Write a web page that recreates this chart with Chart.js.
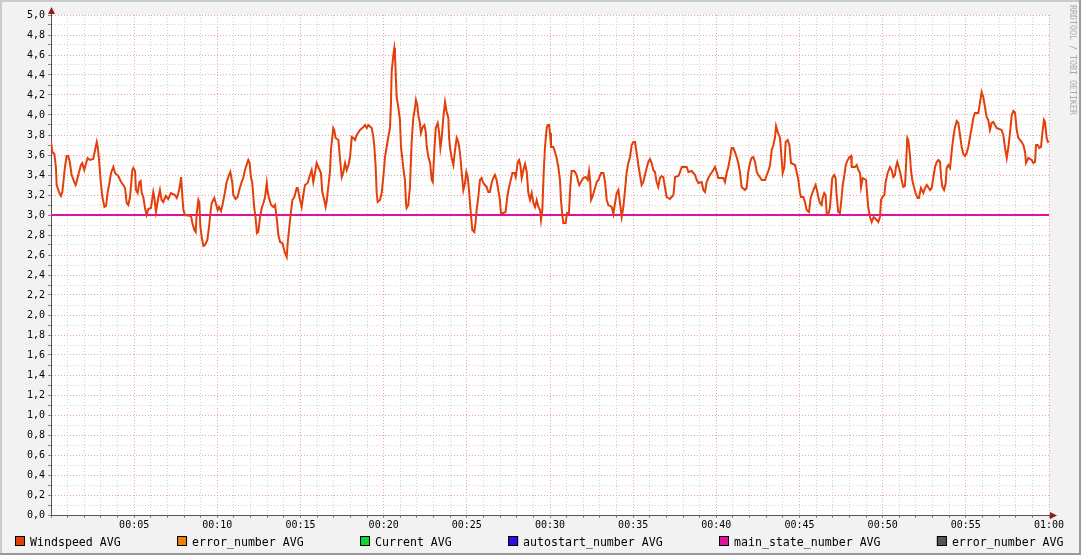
<!DOCTYPE html>
<html>
<head>
<meta charset="utf-8">
<script src="https://cdn.jsdelivr.net/npm/chart.js@4/dist/chart.umd.min.js"></script>
<style>
  html, body { margin: 0; padding: 0; background: #f2f2f2; }
  #wrap { width: 1081px; height: 555px; }
</style>
</head>
<body>
<div id="wrap"><canvas id="myChartLine" width="1081" height="555"></canvas></div>
<script>
// minutes after 00:00
const minutes = [
  0.00, 0.08, 0.20, 0.30, 0.34, 0.48, 0.60, 0.68, 0.74, 0.84, 0.94, 1.04, 1.14, 1.24, 1.40, 1.48, 1.54, 1.64, 1.80, 1.88,
  2.00, 2.08, 2.20, 2.34, 2.54, 2.65, 2.75, 2.81, 2.90, 2.99, 3.09, 3.21, 3.31, 3.41, 3.51, 3.61, 3.75, 3.85, 4.05, 4.21,
  4.35, 4.45, 4.55, 4.65, 4.75, 4.89, 4.95, 5.05, 5.11, 5.21, 5.31, 5.39, 5.45, 5.55, 5.65, 5.75, 5.85, 6.01, 6.15, 6.21,
  6.31, 6.45, 6.55, 6.65, 6.75, 6.90, 7.05, 7.21, 7.45, 7.56, 7.66, 7.76, 7.82, 7.90, 7.96, 8.06, 8.42, 8.50, 8.62, 8.70,
  8.76, 8.86, 8.92, 8.98, 9.06, 9.16, 9.26, 9.40, 9.50, 9.56, 9.66, 9.82, 9.90, 10.02, 10.10, 10.22, 10.32, 10.46, 10.56, 10.70,
  10.78, 10.90, 10.96, 11.10, 11.22, 11.32, 11.46, 11.56, 11.66, 11.76, 11.86, 11.94, 12.02, 12.10, 12.22, 12.30, 12.38, 12.46, 12.57, 12.67,
  12.77, 12.87, 12.97, 13.03, 13.11, 13.23, 13.37, 13.47, 13.57, 13.67, 13.77, 13.91, 13.97, 14.07, 14.17, 14.23, 14.31, 14.39, 14.51, 14.63,
  14.77, 14.83, 14.97, 15.07, 15.17, 15.27, 15.43, 15.57, 15.67, 15.77, 15.87, 15.97, 16.07, 16.23, 16.31, 16.43, 16.51, 16.57, 16.67, 16.77,
  16.83, 16.97, 17.03, 17.11, 17.28, 17.38, 17.48, 17.58, 17.68, 17.78, 17.88, 17.98, 18.08, 18.18, 18.28, 18.38, 18.58, 18.78, 18.88, 18.98,
  19.08, 19.28, 19.38, 19.44, 19.52, 19.58, 19.64, 19.78, 19.88, 19.98, 20.08, 20.18, 20.28, 20.38, 20.44, 20.48, 20.58, 20.64, 20.68, 20.74,
  20.78, 20.88, 20.98, 21.04, 21.12, 21.18, 21.28, 21.34, 21.38, 21.48, 21.58, 21.68, 21.78, 21.88, 21.94, 22.02, 22.08, 22.18, 22.24, 22.35,
  22.45, 22.53, 22.59, 22.69, 22.79, 22.89, 22.95, 23.05, 23.13, 23.25, 23.33, 23.41, 23.49, 23.59, 23.69, 23.79, 23.89, 23.93, 23.99, 24.09,
  24.19, 24.29, 24.39, 24.49, 24.59, 24.69, 24.79, 24.89, 24.97, 25.05, 25.13, 25.19, 25.25, 25.33, 25.45, 25.53, 25.59, 25.69, 25.79, 25.89,
  25.99, 26.09, 26.19, 26.29, 26.39, 26.49, 26.59, 26.69, 26.79, 26.89, 26.99, 27.05, 27.19, 27.33, 27.43, 27.54, 27.64, 27.74, 27.86, 27.94,
  28.06, 28.14, 28.22, 28.30, 28.40, 28.50, 28.60, 28.70, 28.80, 28.90, 29.00, 29.10, 29.20, 29.30, 29.40, 29.46, 29.54, 29.62, 29.70, 29.80,
  29.86, 29.94, 30.00, 30.06, 30.20, 30.30, 30.40, 30.50, 30.60, 30.66, 30.74, 30.80, 30.94, 31.02, 31.14, 31.22, 31.30, 31.46, 31.60, 31.70,
  31.76, 31.86, 32.00, 32.14, 32.27, 32.35, 32.41, 32.47, 32.55, 32.67, 32.81, 32.91, 33.07, 33.21, 33.31, 33.41, 33.51, 33.71, 33.81, 33.91,
  34.01, 34.11, 34.21, 34.31, 34.41, 34.51, 34.61, 34.71, 34.81, 34.91, 35.01, 35.11, 35.21, 35.31, 35.41, 35.51, 35.61, 35.71, 35.81, 35.91,
  36.01, 36.11, 36.21, 36.31, 36.41, 36.51, 36.61, 36.71, 36.81, 36.91, 37.01, 37.21, 37.42, 37.52, 37.72, 37.82, 37.92, 38.22, 38.32, 38.52,
  38.72, 38.82, 38.92, 39.12, 39.22, 39.32, 39.42, 39.52, 39.62, 39.82, 39.92, 40.02, 40.12, 40.42, 40.52, 40.62, 40.72, 40.82, 40.92, 41.02,
  41.12, 41.22, 41.32, 41.42, 41.52, 41.72, 41.82, 41.92, 42.02, 42.12, 42.22, 42.33, 42.43, 42.53, 42.73, 42.93, 43.03, 43.13, 43.23, 43.33,
  43.43, 43.53, 43.59, 43.69, 43.83, 43.93, 43.99, 44.09, 44.17, 44.29, 44.39, 44.49, 44.73, 44.83, 44.93, 45.03, 45.09, 45.23, 45.33, 45.43,
  45.57, 45.67, 45.77, 45.89, 45.97, 46.05, 46.13, 46.23, 46.33, 46.39, 46.49, 46.57, 46.63, 46.73, 46.83, 46.89, 46.97, 47.09, 47.17, 47.23,
  47.33, 47.43, 47.50, 47.60, 47.70, 47.78, 47.90, 48.00, 48.10, 48.14, 48.34, 48.44, 48.54, 48.64, 48.70, 48.80, 49.00, 49.08, 49.14, 49.24,
  49.34, 49.46, 49.64, 49.74, 49.84, 49.90, 49.98, 50.10, 50.18, 50.30, 50.44, 50.54, 50.64, 50.74, 50.80, 50.88, 50.98, 51.06, 51.14, 51.24,
  51.34, 51.40, 51.48, 51.54, 51.64, 51.70, 51.78, 51.88, 51.98, 52.10, 52.18, 52.30, 52.45, 52.55, 52.65, 52.85, 52.95, 53.05, 53.15, 53.25,
  53.35, 53.45, 53.51, 53.59, 53.69, 53.79, 53.85, 53.95, 54.05, 54.11, 54.19, 54.27, 54.35, 54.45, 54.55, 54.65, 54.75, 54.85, 54.95, 55.05,
  55.15, 55.25, 55.35, 55.45, 55.55, 55.75, 55.85, 55.95, 56.05, 56.15, 56.25, 56.35, 56.45, 56.55, 56.65, 56.75, 56.85, 57.15, 57.25, 57.36,
  57.46, 57.56, 57.66, 57.76, 57.86, 57.96, 58.06, 58.16, 58.36, 58.46, 58.56, 58.62, 58.76, 58.96, 59.06, 59.16, 59.22, 59.32, 59.42, 59.52,
  59.60, 59.70, 59.76, 59.86, 59.96
];

const windspeed = [
  3.74, 3.63, 3.61, 3.47, 3.30, 3.23, 3.19, 3.23, 3.32, 3.48, 3.59, 3.59, 3.52, 3.40, 3.33, 3.30, 3.33, 3.40, 3.50, 3.52,
  3.45, 3.50, 3.57, 3.55, 3.56, 3.65, 3.73, 3.68, 3.53, 3.33, 3.18, 3.08, 3.09, 3.23, 3.32, 3.42, 3.48, 3.42, 3.39, 3.33,
  3.30, 3.27, 3.12, 3.10, 3.18, 3.45, 3.47, 3.44, 3.25, 3.22, 3.33, 3.34, 3.22, 3.18, 3.07, 3.00, 3.06, 3.07, 3.23, 3.18,
  3.03, 3.17, 3.25, 3.15, 3.13, 3.19, 3.16, 3.22, 3.20, 3.17, 3.22, 3.30, 3.38, 3.18, 3.05, 3.00, 2.99, 2.92, 2.85, 2.83,
  3.02, 3.15, 3.12, 2.88, 2.78, 2.69, 2.70, 2.75, 2.88, 2.98, 3.12, 3.17, 3.12, 3.05, 3.08, 3.04, 3.11, 3.23, 3.33, 3.40,
  3.43, 3.32, 3.20, 3.16, 3.18, 3.25, 3.33, 3.37, 3.45, 3.50, 3.55, 3.52, 3.38, 3.32, 3.07, 2.97, 2.82, 2.83, 2.98, 3.07,
  3.12, 3.18, 3.32, 3.23, 3.17, 3.10, 3.08, 3.10, 2.97, 2.80, 2.73, 2.72, 2.68, 2.62, 2.58, 2.72, 2.85, 2.98, 3.15, 3.18,
  3.27, 3.27, 3.15, 3.08, 3.20, 3.30, 3.32, 3.40, 3.45, 3.33, 3.42, 3.52, 3.48, 3.42, 3.23, 3.15, 3.08, 3.13, 3.28, 3.43,
  3.65, 3.87, 3.85, 3.77, 3.75, 3.55, 3.38, 3.43, 3.52, 3.45, 3.50, 3.58, 3.78, 3.77, 3.75, 3.80, 3.85, 3.88, 3.90, 3.87,
  3.90, 3.87, 3.78, 3.68, 3.48, 3.22, 3.13, 3.15, 3.22, 3.38, 3.58, 3.68, 3.78, 3.87, 4.12, 4.43, 4.60, 4.67, 4.60, 4.35,
  4.18, 4.08, 3.95, 3.68, 3.57, 3.47, 3.35, 3.12, 3.07, 3.10, 3.28, 3.72, 3.97, 4.07, 4.15, 4.10, 4.00, 3.92, 3.82, 3.88,
  3.90, 3.83, 3.68, 3.58, 3.52, 3.35, 3.33, 3.65, 3.87, 3.92, 3.83, 3.67, 3.77, 3.98, 4.13, 4.03, 3.97, 3.78, 3.67, 3.57,
  3.50, 3.65, 3.77, 3.73, 3.62, 3.43, 3.25, 3.32, 3.43, 3.38, 3.25, 3.12, 3.00, 2.85, 2.83, 2.93, 3.05, 3.18, 3.35, 3.37,
  3.32, 3.30, 3.28, 3.23, 3.23, 3.32, 3.37, 3.40, 3.35, 3.25, 3.15, 3.02, 3.02, 3.03, 3.18, 3.28, 3.35, 3.42, 3.42, 3.38,
  3.53, 3.55, 3.50, 3.37, 3.45, 3.51, 3.43, 3.22, 3.15, 3.22, 3.12, 3.08, 3.15, 3.08, 3.05, 2.95, 3.05, 3.42, 3.68, 3.87,
  3.90, 3.90, 3.82, 3.68, 3.68, 3.63, 3.57, 3.48, 3.35, 3.15, 3.00, 2.92, 2.92, 3.02, 3.02, 3.28, 3.44, 3.44, 3.40, 3.33,
  3.30, 3.33, 3.37, 3.38, 3.35, 3.44, 3.35, 3.15, 3.18, 3.25, 3.33, 3.35, 3.42, 3.42, 3.33, 3.15, 3.10, 3.08, 3.01, 3.12,
  3.22, 3.25, 3.12, 2.98, 3.08, 3.25, 3.43, 3.52, 3.58, 3.70, 3.73, 3.73, 3.62, 3.50, 3.40, 3.30, 3.33, 3.40, 3.47, 3.53,
  3.56, 3.52, 3.45, 3.43, 3.33, 3.28, 3.37, 3.39, 3.38, 3.28, 3.18, 3.16, 3.20, 3.38, 3.39, 3.43, 3.48, 3.48, 3.43, 3.44,
  3.40, 3.35, 3.32, 3.33, 3.25, 3.23, 3.33, 3.37, 3.40, 3.45, 3.48, 3.43, 3.37, 3.37, 3.33, 3.42, 3.48, 3.57, 3.67, 3.67,
  3.63, 3.58, 3.52, 3.43, 3.28, 3.25, 3.27, 3.43, 3.52, 3.57, 3.58, 3.53, 3.43, 3.40, 3.35, 3.35, 3.40, 3.44, 3.50, 3.65,
  3.70, 3.78, 3.89, 3.83, 3.77, 3.55, 3.42, 3.48, 3.73, 3.75, 3.70, 3.52, 3.50, 3.43, 3.35, 3.22, 3.18, 3.18, 3.13, 3.05,
  3.03, 3.17, 3.22, 3.27, 3.30, 3.25, 3.18, 3.12, 3.10, 3.17, 3.22, 3.20, 3.02, 3.01, 3.07, 3.20, 3.37, 3.40, 3.37, 3.20,
  3.03, 3.02, 3.12, 3.30, 3.40, 3.50, 3.55, 3.58, 3.59, 3.48, 3.48, 3.50, 3.45, 3.42, 3.28, 3.37, 3.35, 3.18, 3.07, 2.98,
  2.93, 2.98, 2.95, 2.93, 2.98, 3.15, 3.18, 3.20, 3.33, 3.42, 3.48, 3.45, 3.38, 3.40, 3.48, 3.53, 3.47, 3.42, 3.35, 3.28,
  3.29, 3.48, 3.77, 3.75, 3.60, 3.45, 3.35, 3.28, 3.22, 3.17, 3.17, 3.27, 3.22, 3.27, 3.30, 3.25, 3.27, 3.38, 3.48, 3.53,
  3.55, 3.53, 3.38, 3.28, 3.25, 3.32, 3.47, 3.50, 3.47, 3.57, 3.70, 3.80, 3.88, 3.94, 3.92, 3.80, 3.68, 3.61, 3.59, 3.62,
  3.68, 3.78, 3.87, 3.97, 4.02, 4.02, 4.12, 4.23, 4.18, 4.08, 3.98, 3.95, 3.85, 3.92, 3.93, 3.90, 3.87, 3.85, 3.80, 3.67,
  3.57, 3.68, 3.83, 4.00, 4.04, 4.02, 3.85, 3.77, 3.73, 3.70, 3.63, 3.52, 3.57, 3.55, 3.52, 3.53, 3.70, 3.70, 3.67, 3.68,
  3.82, 3.95, 3.93, 3.77, 3.72
];

const stateMinutes = [0, 60];
const mainState = [3.0, 3.0];

const timeLabels = ['00:05', '00:10', '00:15', '00:20', '00:25', '00:30', '00:35', '00:40', '00:45', '00:50', '00:55', '01:00'];
const yLabels = ['0,0', '0,2', '0,4', '0,6', '0,8', '1,0', '1,2', '1,4', '1,6', '1,8', '2,0', '2,2', '2,4',
  '2,6', '2,8', '3,0', '3,2', '3,4', '3,6', '3,8', '4,0', '4,2', '4,4', '4,6', '4,8', '5,0'];

const seriesNames = ['Windspeed AVG', 'error_number AVG', 'Current AVG', 'autostart_number AVG', 'main_state_number AVG', 'error_number AVG'];
const seriesColors = ['#e23f0b', '#e8820c', '#11d43c', '#2a10e6', '#e0109c', '#555555'];

const MONO = '"DejaVu Sans Mono", "Liberation Mono", monospace';
const majorGrid = '#eba3a3';
const minorGrid = '#d2d2d2';

const datasets = seriesNames.map((name, i) => ({
  label: name,
  data: [],
  borderColor: seriesColors[i],
  backgroundColor: seriesColors[i],
  borderWidth: 2,
  pointRadius: 0,
  tension: 0,
  fill: false
}));
datasets[0].data = minutes.map((m, i) => ({ x: m, y: windspeed[i] }));
datasets[4].data = stateMinutes.map((m, i) => ({ x: m, y: mainState[i] }));
// draw windspeed above the state line
datasets[0].order = 0;
datasets[4].order = 1;

const rrdDecor = {
  id: 'rrdDecor',
  beforeDraw(chart) {
    const { ctx, chartArea: a } = chart;
    ctx.save();
    ctx.fillStyle = '#f2f2f2';
    ctx.fillRect(0, 0, chart.width, chart.height);
    ctx.fillStyle = '#ffffff';
    ctx.fillRect(a.left, a.top, a.right - a.left, a.bottom - a.top);
    ctx.restore();
  },
  afterDraw(chart) {
    const { ctx, chartArea: a } = chart;
    ctx.save();
    // axis extensions and arrows
    ctx.strokeStyle = '#555';
    ctx.lineWidth = 1;
    ctx.beginPath();
    ctx.moveTo(a.left + 0.5, a.top);
    ctx.lineTo(a.left + 0.5, a.top - 6);
    ctx.moveTo(a.right, a.bottom + 0.5);
    ctx.lineTo(a.right + 6, a.bottom + 0.5);
    ctx.stroke();
    ctx.fillStyle = '#8b1e1e';
    ctx.beginPath();
    ctx.moveTo(a.left + 0.5, a.top - 8);
    ctx.lineTo(a.left - 3, a.top - 1);
    ctx.lineTo(a.left + 4, a.top - 1);
    ctx.closePath();
    ctx.fill();
    ctx.beginPath();
    ctx.moveTo(a.right + 8, a.bottom + 0.5);
    ctx.lineTo(a.right + 1, a.bottom - 3);
    ctx.lineTo(a.right + 1, a.bottom + 4);
    ctx.closePath();
    ctx.fill();

    // legend row
    ctx.font = '11.6px ' + MONO;
    ctx.textBaseline = 'alphabetic';
    let x = 15;
    chart.data.datasets.forEach(ds => {
      ctx.fillStyle = ds.backgroundColor;
      ctx.fillRect(x, 536, 10, 10);
      ctx.strokeStyle = '#000';
      ctx.strokeRect(x + 0.5, 536.5, 9, 9);
      ctx.fillStyle = '#000';
      ctx.fillText(ds.label, x + 15, 546);
      x += 15 + ctx.measureText(ds.label).width + 56.3;
    });

    // watermark
    ctx.translate(1072, 5);
    ctx.rotate(Math.PI / 2);
    ctx.font = '8.3px ' + MONO;
    ctx.fillStyle = '#aaaaaa';
    ctx.textBaseline = 'middle';
    ctx.fillText('RRDTOOL / TOBI OETIKER', 0, 0);

    // frame
    ctx.setTransform(1, 0, 0, 1, 0, 0);
    ctx.fillStyle = '#cbcbcb';
    ctx.fillRect(0, 0, chart.width, 2);
    ctx.fillRect(0, 0, 2, chart.height);
    ctx.fillStyle = '#999999';
    ctx.fillRect(0, chart.height - 2, chart.width, 2);
    ctx.fillRect(chart.width - 2, 0, 2, chart.height);
    ctx.restore();
  }
};

const configLine = {
  type: 'line',
  data: { datasets: datasets },
  options: {
    responsive: false,
    animation: false,
    events: [],
    layout: { padding: { top: 15, right: 32, left: 0, bottom: 0 } },
    plugins: { legend: { display: false }, tooltip: { enabled: false } },
    scales: {
      x: {
        type: 'linear',
        min: 0,
        max: 60,
        afterFit: s => { s.height = 40; },
        ticks: {
          stepSize: 1,
          autoSkip: false,
          maxRotation: 0,
          minRotation: 0,
          padding: 1,
          color: '#000',
          font: { family: MONO, size: 10 },
          callback: v => (v > 0 && v % 5 === 0) ? timeLabels[v / 5 - 1] : ''
        },
        grid: {
          color: c => (c.tick && c.tick.value % 5 === 0) ? majorGrid : minorGrid,
          lineWidth: 1,
          tickLength: 3,
          tickColor: '#888',
          tickBorderDash: []
        },
        border: { display: true, color: '#555', width: 1, dash: [1, 2] }
      },
      y: {
        min: 0,
        max: 5,
        afterFit: s => { s.width = 51; },
        ticks: {
          stepSize: 0.1,
          autoSkip: false,
          padding: 3,
          color: '#000',
          font: { family: MONO, size: 10 },
          callback: v => {
            const k = Math.round(v * 10);
            return k % 2 === 0 ? yLabels[k / 2] : '';
          }
        },
        grid: {
          color: c => (c.tick && Math.round(c.tick.value * 10) % 2 === 0) ? majorGrid : minorGrid,
          lineWidth: 1,
          tickLength: 3,
          tickColor: '#888',
          tickBorderDash: []
        },
        border: { display: true, color: '#555', width: 1, dash: [1, 2] }
      }
    }
  },
  plugins: [rrdDecor]
};

var myChartLine = new Chart(
  document.getElementById('myChartLine'),
  configLine
);
</script>
</body>
</html>
